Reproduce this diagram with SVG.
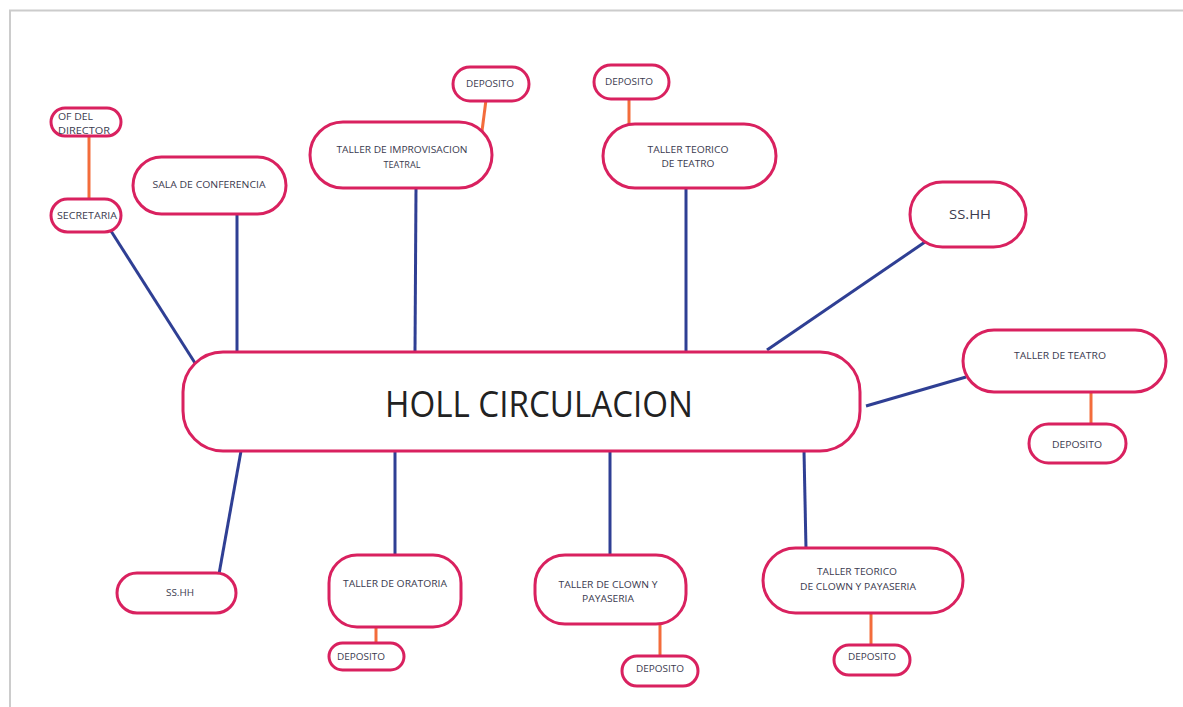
<svg xmlns="http://www.w3.org/2000/svg" width="1183" height="707" viewBox="0 0 1183 707">
<style>
.n{fill:#fff;stroke:#d9215f;stroke-width:3}
.t{font-family:"Open Sans","Liberation Sans",sans-serif;font-size:9px;fill:#3b3b4f;text-anchor:middle}
.b{stroke:#2f3f94;stroke-width:3;fill:none}
.o{stroke:#f36c3b;stroke-width:3;fill:none}
</style>
<rect x="0" y="0" width="1183" height="707" fill="#fff"/>
<path d="M10 707 V10.5 H1183" fill="none" stroke="#cccccc" stroke-width="2"/>
<g id="connectors">
<line class="o" x1="89" y1="136" x2="89" y2="200"/>
<line class="b" x1="111" y1="231" x2="195" y2="363"/>
<line class="b" x1="237" y1="213" x2="237" y2="352"/>
<line class="o" x1="486" y1="100" x2="482" y2="131"/>
<line class="b" x1="416" y1="188" x2="415" y2="352"/>
<line class="o" x1="629" y1="98" x2="629" y2="125"/>
<line class="b" x1="686" y1="187" x2="686" y2="351"/>
<line class="b" x1="925" y1="242" x2="767" y2="350"/>
<line class="b" x1="866" y1="406" x2="966" y2="377"/>
<line class="o" x1="1091" y1="392" x2="1091" y2="424"/>
<line class="b" x1="241" y1="451" x2="219" y2="574"/>
<line class="b" x1="395" y1="451" x2="395" y2="556"/>
<line class="o" x1="376" y1="626" x2="376" y2="643"/>
<line class="b" x1="610" y1="449" x2="610" y2="556"/>
<line class="o" x1="660" y1="623" x2="660" y2="656"/>
<line class="b" x1="804" y1="451" x2="806" y2="549"/>
<line class="o" x1="871" y1="612" x2="871" y2="645"/>
</g>
<g id="hall">
<rect class="n" x="183" y="352" width="677" height="99" rx="40"/>
<text x="539" y="417" style="font-family:'Open Sans','Liberation Sans',sans-serif;font-size:36px;fill:#222" text-anchor="middle" textLength="308" lengthAdjust="spacingAndGlyphs">HOLL CIRCULACION</text>
</g>
<g id="of-director">
<rect class="n" x="51" y="108" width="70" height="28" rx="14"/>
<text class="t" x="58" y="120" text-anchor="start" style="text-anchor:start" textLength="35" lengthAdjust="spacingAndGlyphs">OF DEL</text>
<text class="t" x="58" y="134" style="text-anchor:start" textLength="52" lengthAdjust="spacingAndGlyphs">DIRECTOR</text>
</g>
<g id="secretaria">
<rect class="n" x="51" y="199" width="70" height="33" rx="16.5"/>
<text class="t" x="87" y="219" textLength="60" lengthAdjust="spacingAndGlyphs">SECRETARIA</text>
</g>
<g id="sala-conferencia">
<rect class="n" x="133" y="157" width="153" height="57" rx="28.5"/>
<text class="t" x="209" y="188" textLength="113" lengthAdjust="spacingAndGlyphs">SALA DE CONFERENCIA</text>
</g>
<g id="taller-improvisacion">
<rect class="n" x="310" y="122" width="182" height="66" rx="33"/>
<text class="t" x="402" y="153" textLength="131" lengthAdjust="spacingAndGlyphs">TALLER DE IMPROVISACION</text>
<text class="t" x="402" y="168" textLength="37" lengthAdjust="spacingAndGlyphs">TEATRAL</text>
</g>
<g id="deposito-1">
<rect class="n" x="453" y="67" width="76" height="34" rx="17"/>
<text class="t" x="490" y="87" textLength="48" lengthAdjust="spacingAndGlyphs">DEPOSITO</text>
</g>
<g id="deposito-2">
<rect class="n" x="594" y="65" width="75" height="34" rx="17"/>
<text class="t" x="629" y="85" textLength="48" lengthAdjust="spacingAndGlyphs">DEPOSITO</text>
</g>
<g id="taller-teorico-teatro">
<rect class="n" x="603" y="124" width="173" height="64" rx="32"/>
<text class="t" x="688" y="153" textLength="81" lengthAdjust="spacingAndGlyphs">TALLER TEORICO</text>
<text class="t" x="688" y="167" textLength="53" lengthAdjust="spacingAndGlyphs">DE TEATRO</text>
</g>
<g id="sshh-1">
<rect class="n" x="910" y="182" width="116" height="65" rx="32.5"/>
<text class="t" x="970" y="219" style="font-size:13px" textLength="42" lengthAdjust="spacingAndGlyphs">SS.HH</text>
</g>
<g id="taller-teatro">
<rect class="n" x="963" y="330" width="203" height="62" rx="31"/>
<text class="t" x="1060" y="359" textLength="92" lengthAdjust="spacingAndGlyphs">TALLER DE TEATRO</text>
</g>
<g id="deposito-3">
<rect class="n" x="1029" y="424" width="97" height="39" rx="19.5"/>
<text class="t" x="1077" y="448" textLength="50" lengthAdjust="spacingAndGlyphs">DEPOSITO</text>
</g>
<g id="sshh-2">
<rect class="n" x="117" y="573" width="119" height="40" rx="20"/>
<text class="t" x="180" y="596" textLength="28" lengthAdjust="spacingAndGlyphs">SS.HH</text>
</g>
<g id="taller-oratoria">
<rect class="n" x="329" y="555" width="132" height="72" rx="28"/>
<text class="t" x="395" y="587" textLength="104" lengthAdjust="spacingAndGlyphs">TALLER DE ORATORIA</text>
</g>
<g id="deposito-4">
<rect class="n" x="329" y="643" width="75" height="27" rx="13.5"/>
<text class="t" x="337" y="660" style="text-anchor:start" textLength="48" lengthAdjust="spacingAndGlyphs">DEPOSITO</text>
</g>
<g id="taller-clown">
<rect class="n" x="535" y="555" width="151" height="69" rx="30"/>
<text class="t" x="608" y="588" textLength="99" lengthAdjust="spacingAndGlyphs">TALLER DE CLOWN Y</text>
<text class="t" x="608" y="602" textLength="52" lengthAdjust="spacingAndGlyphs">PAYASERIA</text>
</g>
<g id="deposito-5">
<rect class="n" x="622" y="656" width="76" height="30" rx="15"/>
<text class="t" x="660" y="672" textLength="48" lengthAdjust="spacingAndGlyphs">DEPOSITO</text>
</g>
<g id="taller-teorico-clown">
<rect class="n" x="763" y="548" width="200" height="65" rx="32.5"/>
<text class="t" x="857" y="575" textLength="80" lengthAdjust="spacingAndGlyphs">TALLER TEORICO</text>
<text class="t" x="858" y="590" textLength="116" lengthAdjust="spacingAndGlyphs">DE CLOWN Y PAYASERIA</text>
</g>
<g id="deposito-6">
<rect class="n" x="834" y="645" width="76" height="30" rx="15"/>
<text class="t" x="872" y="660" textLength="48" lengthAdjust="spacingAndGlyphs">DEPOSITO</text>
</g>
</svg>
